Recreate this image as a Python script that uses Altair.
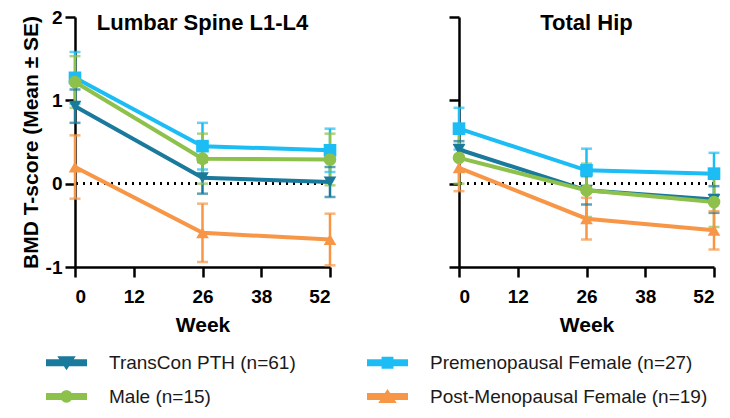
import altair as alt
import pandas as pd

weeks = [0, 26, 52]
groups = ["TransCon PTH (n=61)", "Premenopausal Female (n=27)", "Male (n=15)", "Post-Menopausal Female  (n=19)"]
colors = ["#1a7a9c", "#1cbdf5", "#8dc14b", "#f79646"]
markers = ["triangle-down", "square", "circle", "triangle-up"]

# Lumbar Spine L1-L4 (mean, SE) per group, weeks 0/26/52
spine_means = [[0.93, 0.07, 0.02], [1.27, 0.45, 0.40], [1.22, 0.30, 0.29], [0.20, -0.59, -0.67]]
spine_se = [[0.20, 0.19, 0.18], [0.31, 0.28, 0.26], [0.31, 0.30, 0.31], [0.38, 0.35, 0.31]]
# Total Hip
hip_means = [[0.41, -0.08, -0.19], [0.66, 0.16, 0.12], [0.31, -0.08, -0.22], [0.19, -0.42, -0.56]]
hip_se = [[0.10, 0.17, 0.16], [0.25, 0.26, 0.25], [0.31, 0.32, 0.30], [0.28, 0.25, 0.23]]

x_ticks = [0, 12, 26, 38, 52]
y_ticks = [-1, 0, 1, 2]

# legend symbols: a bar with the marker on top (custom SVG paths)
bar = "M-1,-0.17H1V0.17H-1Z"
legend_paths = [
    bar + "M-0.45,-0.32L0.45,-0.32L0,0.36Z",
    bar + "M-0.29,-0.29H0.29V0.29H-0.29Z",
    bar + "M-0.3,0A0.3,0.3 0 1,1 0.3,0A0.3,0.3 0 1,1 -0.3,0Z",
    bar + "M0.45,0.32L-0.45,0.32L0,-0.36Z",
]


def make_df(means, ses):
    rows = []
    for g, m_list, s_list, mk in zip(groups, means, ses, markers):
        for w, m, s in zip(weeks, m_list, s_list):
            rows.append({"group": g, "week": w, "mean": m, "lo": m - s, "hi": m + s, "marker": mk})
    return pd.DataFrame(rows)


FONT = "Liberation Sans, Arial, sans-serif"
color_scale = alt.Scale(domain=groups, range=colors)

leg = alt.Legend(title=None, orient="none", legendX=-29, legendY=325, columns=2, direction="horizontal",
                 symbolSize=1681, symbolStrokeWidth=0, symbolOpacity=1,
                 labelFont=FONT, labelFontSize=19, labelColor="#1a1a1a", labelOffset=22,
                 columnPadding=71, rowPadding=3, labelLimit=400)


def panel(df, title, show_labels, title_offset, with_legend):
    base = alt.Chart(df)
    x = alt.X("week:Q", scale=alt.Scale(domain=[0, 52], nice=False, zero=False),
              axis=alt.Axis(values=x_ticks, title="Week", labelPadding=10, titlePadding=8))
    yax = alt.Axis(values=y_ticks, title="BMD T-score (Mean \u00b1 SE)" if show_labels else None,
                   labels=show_labels, labelExpr="'' + datum.value", labelPadding=3, titlePadding=4)
    y = alt.Y("mean:Q", scale=alt.Scale(domain=[-1, 2], nice=False), axis=yax)
    col = alt.Color("group:N", scale=color_scale, legend=leg)

    zero = base.mark_rule(color="black", strokeDash=[2, 5], strokeWidth=2).encode(y=alt.datum(0))
    err = base.mark_rule(strokeWidth=2.5).encode(x=x, y=alt.Y("lo:Q", scale=alt.Scale(domain=[-1, 2], nice=False), axis=yax), y2="hi:Q", color=col)
    cap_lo = base.mark_tick(orient="horizontal", size=11, thickness=2.5).encode(x=x, y=alt.Y("lo:Q"), color=col)
    cap_hi = base.mark_tick(orient="horizontal", size=11, thickness=2.5).encode(x=x, y=alt.Y("hi:Q"), color=col)
    line = base.mark_line(strokeWidth=4).encode(x=x, y=y, color=col, detail="group:N")
    pts = base.mark_point(filled=True, opacity=1, size=160).encode(
        x=x, y=y, color=col, shape=alt.Shape("marker:N", scale=None))
    layers = [zero, err, cap_lo, cap_hi, line, pts]
    if with_legend:
        lg = base.mark_point(filled=True, opacity=0).encode(
            x=x, y=y, color=col,
            shape=alt.Shape("group:N", scale=alt.Scale(domain=groups, range=legend_paths), legend=leg))
        layers.append(lg)
    return alt.layer(*layers).properties(
        width=255, height=250,
        title=alt.TitleParams(title, fontSize=22, font=FONT, fontWeight="bold", color="black",
                              anchor="middle", frame="group", offset=title_offset))


left = panel(make_df(spine_means, spine_se), "Lumbar Spine L1-L4", True, -27, True)
right = panel(make_df(hip_means, hip_se), "Total Hip", False, -19, False)

chart = alt.hconcat(left, right, spacing=109).properties(
    padding={"left": 12, "top": 0, "right": 0, "bottom": 0}
).configure_view(stroke=None).configure_axis(
    grid=False, domainColor="black", domainWidth=2.5, tickColor="black", tickWidth=2.5,
    tickSize=10, labelFont=FONT, labelFontWeight="bold", labelFontSize=19, labelColor="black",
    titleFont=FONT, titleFontWeight="bold", titleFontSize=21, titleColor="black"
)

chart.save("out.html", embed_options={"renderer": "svg", "actions": False})
